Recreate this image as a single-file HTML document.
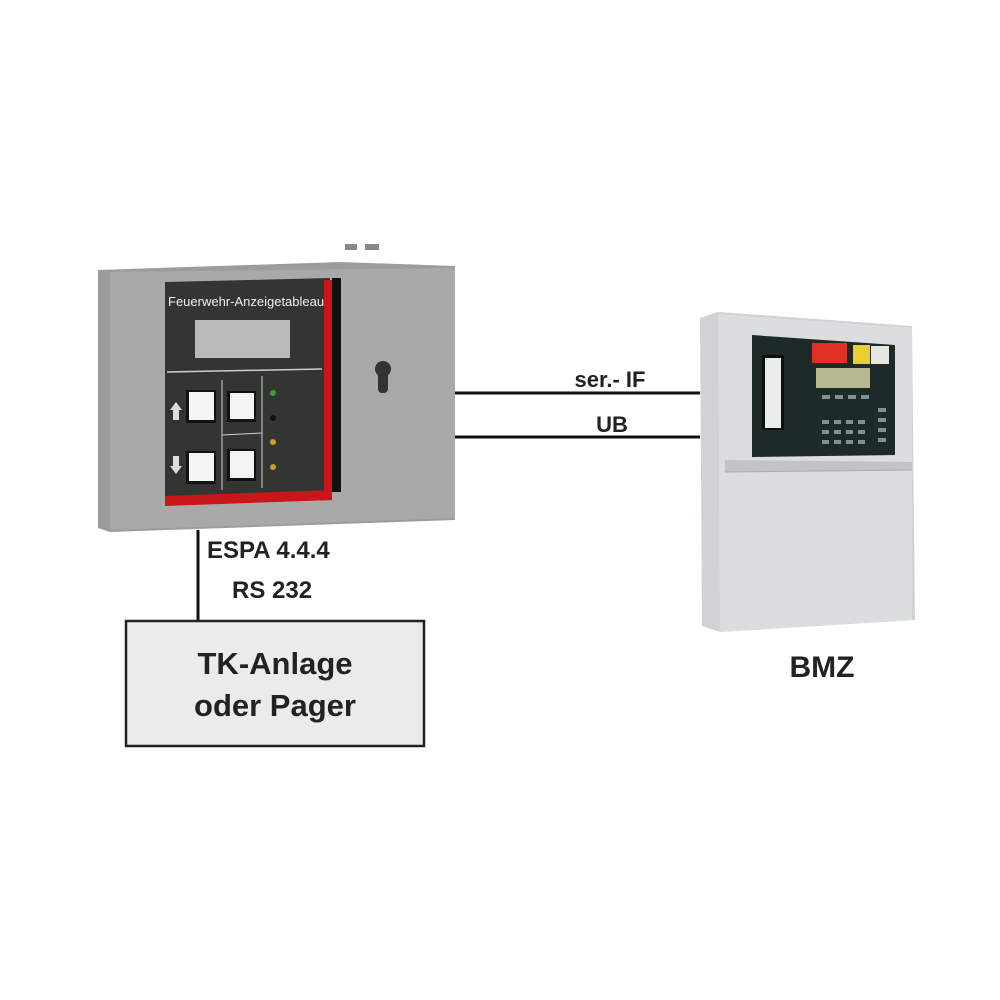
<!DOCTYPE html>
<html><head><style>
body{margin:0;background:#fff;}
svg{display:block;font-family:"Liberation Sans",sans-serif;}
</style></head><body>
<svg width="1000" height="1000" viewBox="0 0 1000 1000">
<!-- left device -->
<polygon points="98,270 340,262 455,266 455,520 110,532 98,528" fill="#9c9c9c"/>
<polygon points="110,272 455,268 455,518 110,530" fill="#a9a9a9"/>
<rect x="345" y="244" width="12" height="6" fill="#888"/>
<rect x="365" y="244" width="14" height="6" fill="#888"/>
<polygon points="165,282 330,278 332,500 165,505" fill="#333533"/>
<rect x="332" y="278" width="9" height="214" fill="#111"/>
<rect x="324" y="280" width="8" height="218" fill="#c8161a"/>
<polygon points="165,496 332,490 332,500 165,506" fill="#c8161a"/>
<text x="168" y="306" font-size="13" fill="#eee">Feuerwehr-Anzeigetableau</text>
<rect x="195" y="320" width="95" height="38" fill="#b8bcb8"/>
<line x1="167" y1="372" x2="322" y2="369" stroke="#ccc" stroke-width="1.5"/>
<line x1="222" y1="380" x2="222" y2="490" stroke="#ccc" stroke-width="1"/>
<line x1="262" y1="376" x2="262" y2="488" stroke="#ccc" stroke-width="1"/>
<line x1="222" y1="435" x2="262" y2="433" stroke="#ccc" stroke-width="1"/>
<rect x="186" y="390" width="30" height="33" fill="#111"/><rect x="189" y="392" width="25" height="28" fill="#f4f4f4"/>
<rect x="186" y="451" width="30" height="33" fill="#111"/><rect x="189" y="453" width="25" height="28" fill="#f4f4f4"/>
<rect x="227" y="391" width="29" height="31" fill="#111"/><rect x="230" y="393" width="24" height="26" fill="#f4f4f4"/>
<rect x="227" y="449" width="29" height="32" fill="#111"/><rect x="230" y="451" width="24" height="27" fill="#f4f4f4"/>
<polygon points="176,402 182,410 179,410 179,420 173,420 173,410 170,410" fill="#ddd"/>
<polygon points="176,474 182,466 179,466 179,456 173,456 173,466 170,466" fill="#ddd"/>
<circle cx="273" cy="393" r="3" fill="#3c9c3c"/>
<circle cx="273" cy="418" r="3" fill="#111"/>
<circle cx="273" cy="442" r="3" fill="#c8a020"/>
<circle cx="273" cy="467" r="3" fill="#c8a020"/>
<ellipse cx="383" cy="369" rx="8" ry="8" fill="#333"/>
<rect x="378" y="369" width="10" height="24" rx="4" fill="#333"/>
<!-- connectors -->
<line x1="455" y1="393" x2="700" y2="393" stroke="#111" stroke-width="3"/>
<line x1="455" y1="437" x2="700" y2="437" stroke="#111" stroke-width="3"/>
<text x="610" y="387" font-size="22" font-weight="bold" text-anchor="middle" fill="#222">ser.- IF</text>
<text x="612" y="432" font-size="22" font-weight="bold" text-anchor="middle" fill="#222">UB</text>
<line x1="198" y1="530" x2="198" y2="620" stroke="#111" stroke-width="3"/>
<text x="207" y="558" font-size="24" font-weight="bold" fill="#222">ESPA 4.4.4</text>
<text x="232" y="598" font-size="24" font-weight="bold" fill="#222">RS 232</text>
<rect x="126" y="621" width="298" height="125" fill="#ebebeb" stroke="#222" stroke-width="2.5"/>
<text x="275" y="674" font-size="31" font-weight="bold" text-anchor="middle" fill="#222">TK-Anlage</text>
<text x="275" y="716" font-size="31" font-weight="bold" text-anchor="middle" fill="#222">oder Pager</text>
<!-- BMZ -->
<polygon points="700,318 718,312 912,326 915,620 720,632 702,626" fill="#cfd3d4"/>
<polygon points="718,314 912,328 912,620 720,632" fill="#dadedf"/>
<polygon points="752,335 895,345 895,455 752,457" fill="#1e2a28"/>
<rect x="762" y="355" width="22" height="75" fill="#0b100f"/>
<rect x="765" y="358" width="16" height="70" fill="#e8ecec"/>
<rect x="812" y="343" width="35" height="20" fill="#e23020"/>
<rect x="853" y="345" width="17" height="19" fill="#e8d030"/>
<rect x="871" y="346" width="18" height="18" fill="#e8e4e0"/>
<rect x="816" y="368" width="54" height="20" fill="#b8b890"/>
<g fill="#7f9098">
<rect x="822" y="395" width="8" height="4"/><rect x="835" y="395" width="8" height="4"/><rect x="848" y="395" width="8" height="4"/><rect x="861" y="395" width="8" height="4"/>
<rect x="822" y="420" width="7" height="4"/><rect x="834" y="420" width="7" height="4"/><rect x="846" y="420" width="7" height="4"/><rect x="858" y="420" width="7" height="4"/>
<rect x="822" y="430" width="7" height="4"/><rect x="834" y="430" width="7" height="4"/><rect x="846" y="430" width="7" height="4"/><rect x="858" y="430" width="7" height="4"/>
<rect x="822" y="440" width="7" height="4"/><rect x="834" y="440" width="7" height="4"/><rect x="846" y="440" width="7" height="4"/><rect x="858" y="440" width="7" height="4"/>
<rect x="878" y="408" width="8" height="4"/><rect x="878" y="418" width="8" height="4"/><rect x="878" y="428" width="8" height="4"/><rect x="878" y="438" width="8" height="4"/>
</g>
<polygon points="725,460 912,462 912,470 725,472" fill="#c0c4c5"/>
<line x1="725" y1="472" x2="912" y2="470" stroke="#a8acad" stroke-width="1"/>
<text x="822" y="677" font-size="30" font-weight="bold" text-anchor="middle" fill="#222">BMZ</text>
</svg>
</body></html>
